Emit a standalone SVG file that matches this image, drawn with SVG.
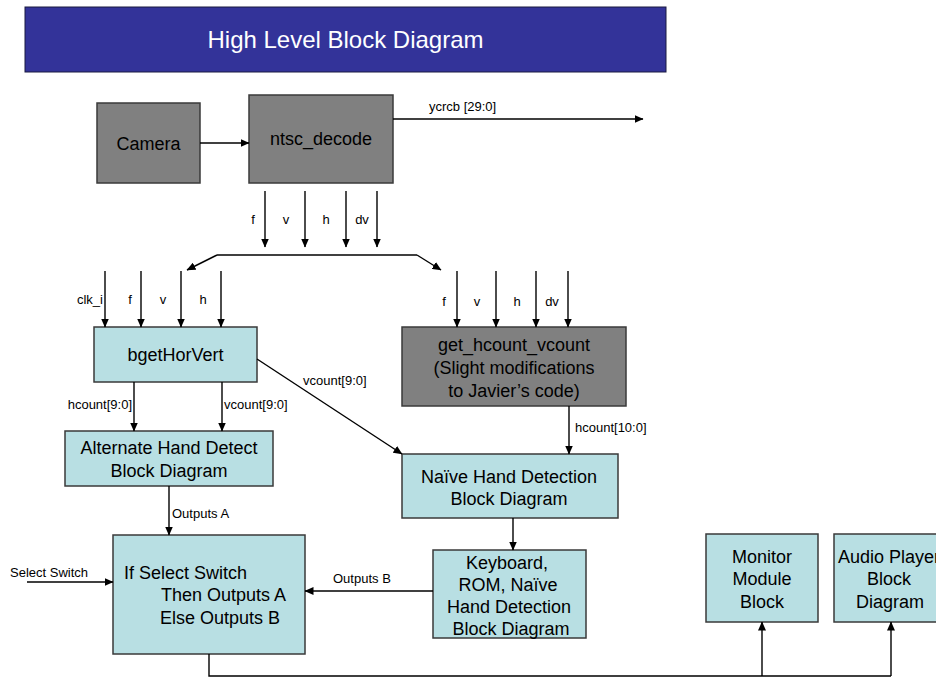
<svg xmlns="http://www.w3.org/2000/svg" width="936" height="679" viewBox="0 0 936 679">
  <style>
    .box { stroke: #3a3a3a; stroke-width: 1.5; }
    .grey { fill: #808080; }
    .teal { fill: #B8DFE3; }
    .lbl { font-family: "Liberation Sans", Arial, sans-serif; font-size: 18px; fill: #000; }
    .mid { text-anchor: middle; }
    .sig { font-family: "Liberation Sans", Arial, sans-serif; font-size: 13px; fill: #000; }
    .wire { fill: none; stroke: #000; stroke-width: 1.4; }
    .arr { fill: none; stroke: #000; stroke-width: 1.4; marker-end: url(#head); }
  </style>
  <defs>
    <marker id="head" markerWidth="9" markerHeight="8" refX="8.5" refY="4" orient="auto" markerUnits="userSpaceOnUse">
      <path d="M0,0 L9,4 L0,8 z" fill="#000"/>
    </marker>
  </defs>

  <rect width="936" height="679" fill="#fff"/>

  <!-- title banner -->
  <g id="title">
    <rect x="25" y="7" width="641" height="65" fill="#333399" stroke="#1a1a40" stroke-width="1"/>
    <text x="345.5" y="48" text-anchor="middle" font-family="Liberation Sans, Arial, sans-serif" font-size="24" fill="#fff" textLength="276" lengthAdjust="spacingAndGlyphs">High Level Block Diagram</text>
  </g>

  <!-- blocks -->
  <g id="camera">
    <rect class="box grey" x="97" y="103" width="103" height="80"/>
    <text class="lbl mid" x="148.5" y="150" fill="#111">Camera</text>
  </g>

  <g id="ntsc_decode">
    <rect class="box grey" x="249" y="95" width="144" height="88"/>
    <text class="lbl mid" x="321" y="145">ntsc_decode</text>
  </g>

  <g id="bgetHorVert">
    <rect class="box teal" x="94" y="327" width="163" height="55"/>
    <text class="lbl mid" x="175.5" y="361">bgetHorVert</text>
  </g>

  <g id="get_hcount_vcount">
    <rect class="box grey" x="402" y="327" width="224" height="79"/>
    <text class="lbl mid" x="514" y="351">get_hcount_vcount</text>
    <text class="lbl mid" x="514" y="374">(Slight modifications</text>
    <text class="lbl mid" x="514" y="397">to Javier’s code)</text>
  </g>

  <g id="alternate_hand_detect">
    <rect class="box teal" x="65" y="431" width="208" height="55"/>
    <text class="lbl mid" x="169" y="454">Alternate Hand Detect</text>
    <text class="lbl mid" x="169" y="477">Block Diagram</text>
  </g>

  <g id="naive_hand_detection">
    <rect class="box teal" x="402" y="454" width="216" height="64"/>
    <text class="lbl mid" x="509" y="483">Naïve Hand Detection</text>
    <text class="lbl mid" x="509" y="505">Block Diagram</text>
  </g>

  <g id="keyboard_rom">
    <rect class="box teal" x="433" y="550" width="153" height="88"/>
    <text class="lbl mid" x="507" y="569">Keyboard,</text>
    <text class="lbl mid" x="508" y="591">ROM, Naïve</text>
    <text class="lbl mid" x="509" y="613">Hand Detection</text>
    <text class="lbl mid" x="511" y="635">Block Diagram</text>
  </g>

  <g id="select_mux">
    <rect class="box teal" x="113" y="535" width="192" height="119"/>
    <text class="lbl" x="124" y="579">If Select Switch</text>
    <text class="lbl" x="161" y="601">Then Outputs A</text>
    <text class="lbl" x="160" y="624">Else Outputs B</text>
  </g>

  <g id="monitor_module">
    <rect class="box teal" x="706" y="534" width="112" height="88"/>
    <text class="lbl mid" x="762" y="563">Monitor</text>
    <text class="lbl mid" x="762" y="585">Module</text>
    <text class="lbl mid" x="762" y="608">Block</text>
  </g>

  <g id="audio_player">
    <rect class="box teal" x="834" y="534" width="118" height="88"/>
    <text class="lbl" x="838" y="563">Audio Player</text>
    <text class="lbl mid" x="889" y="585">Block</text>
    <text class="lbl mid" x="890" y="608">Diagram</text>
  </g>

  <!-- connectors -->
  <g id="connectors">
    <!-- camera to decoder, video out -->
    <line class="arr" x1="200" y1="143" x2="249" y2="143"/>
    <line class="arr" x1="393" y1="119" x2="643" y2="119"/>

    <!-- decoder sync outputs -->
    <line class="arr" x1="265" y1="191" x2="265" y2="247"/>
    <line class="arr" x1="305" y1="191" x2="305" y2="247"/>
    <line class="arr" x1="346" y1="191" x2="346" y2="247"/>
    <line class="arr" x1="377" y1="191" x2="377" y2="247"/>

    <!-- fan-out to both counters -->
    <line class="wire" x1="217" y1="255" x2="417" y2="255"/>
    <line class="arr" x1="217" y1="255" x2="187" y2="270"/>
    <line class="arr" x1="417" y1="255" x2="441" y2="270"/>

    <!-- inputs to bgetHorVert -->
    <line class="arr" x1="105" y1="271" x2="105" y2="327"/>
    <line class="arr" x1="141" y1="271" x2="141" y2="327"/>
    <line class="arr" x1="181" y1="271" x2="181" y2="327"/>
    <line class="arr" x1="221" y1="271" x2="221" y2="327"/>

    <!-- inputs to get_hcount_vcount -->
    <line class="arr" x1="457" y1="271" x2="457" y2="327"/>
    <line class="arr" x1="496" y1="271" x2="496" y2="327"/>
    <line class="arr" x1="536" y1="271" x2="536" y2="327"/>
    <line class="arr" x1="568" y1="271" x2="568" y2="327"/>

    <!-- counts -->
    <line class="arr" x1="134" y1="382" x2="134" y2="431"/>
    <line class="arr" x1="222" y1="382" x2="222" y2="431"/>
    <line class="arr" x1="257" y1="359" x2="402" y2="454"/>
    <line class="arr" x1="569" y1="406" x2="569" y2="454"/>

    <!-- detection outputs -->
    <line class="arr" x1="513" y1="518" x2="513" y2="550"/>
    <line class="arr" x1="169" y1="486" x2="169" y2="535"/>
    <line class="arr" x1="433" y1="591" x2="305" y2="591"/>
    <line class="arr" x1="27" y1="582" x2="113" y2="582"/>

    <!-- selected outputs to monitor and audio -->
    <polyline class="wire" points="209,654 209,676 891,676"/>
    <line class="arr" x1="762" y1="676" x2="762" y2="622"/>
    <line class="arr" x1="891" y1="676" x2="891" y2="622"/>
  </g>

  <!-- signal labels -->
  <g id="labels">
    <text class="sig" x="429" y="111">ycrcb [29:0]</text>
    <text class="sig mid" x="253" y="224">f</text>
    <text class="sig mid" x="286" y="224">v</text>
    <text class="sig mid" x="326" y="224">h</text>
    <text class="sig mid" x="362" y="224">dv</text>

    <text class="sig" x="103" y="304" text-anchor="end">clk_i</text>
    <text class="sig mid" x="130" y="304">f</text>
    <text class="sig mid" x="163" y="304">v</text>
    <text class="sig mid" x="203" y="304">h</text>

    <text class="sig mid" x="444" y="306">f</text>
    <text class="sig mid" x="477" y="306">v</text>
    <text class="sig mid" x="517" y="306">h</text>
    <text class="sig mid" x="552" y="306">dv</text>

    <text class="sig" x="132" y="409" text-anchor="end">hcount[9:0]</text>
    <text class="sig" x="224" y="409">vcount[9:0]</text>
    <text class="sig" x="303" y="385">vcount[9:0]</text>
    <text class="sig" x="575" y="432">hcount[10:0]</text>
    <text class="sig" x="172" y="518">Outputs A</text>
    <text class="sig" x="333" y="583">Outputs B</text>
    <text class="sig" x="10" y="577">Select Switch</text>
  </g>
</svg>
